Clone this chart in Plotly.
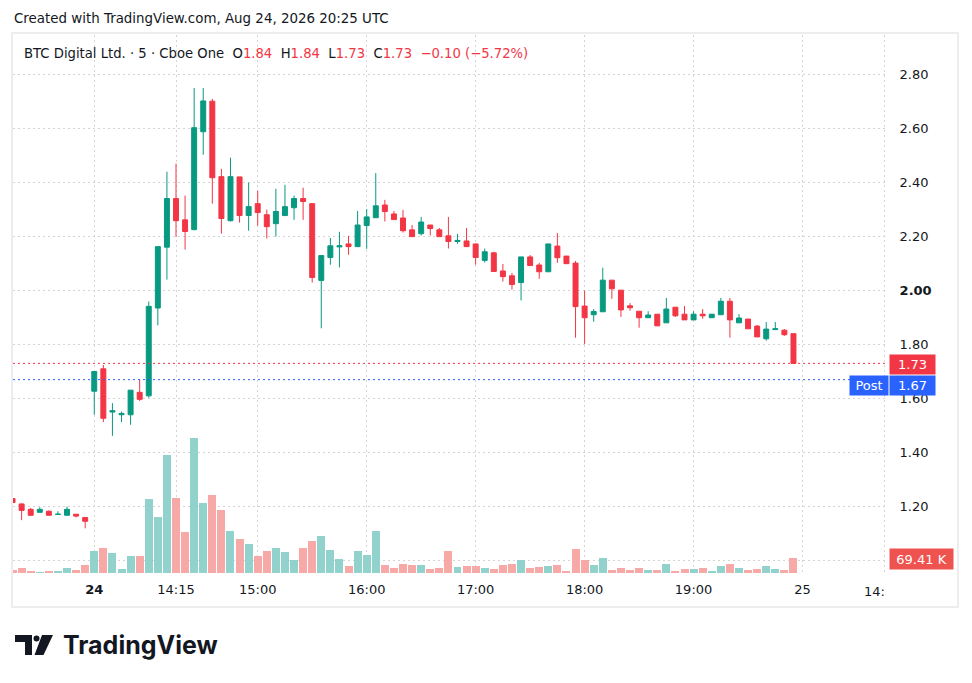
import plotly.graph_objects as go

# bars: 9 from the previous session, then Aug 24 from 13:30 (5 minute bars)
pre_open = [1.23, 1.21, 1.19, 1.179, 1.183, 1.171, 1.168, 1.172, 1.16]
pre_high = [1.23, 1.212, 1.195, 1.198, 1.186, 1.183, 1.20, 1.172, 1.16]
pre_low = [1.215, 1.15, 1.168, 1.179, 1.168, 1.171, 1.168, 1.16, 1.12]
pre_close = [1.215, 1.186, 1.168, 1.19, 1.168, 1.172, 1.19, 1.165, 1.146]
pre_volume = [12700, 22200, 9400, 3300, 9400, 9400, 22200, 12700, 36400]

day_open = [
    1.627, 1.71, 1.55, 1.54, 1.54, 1.623, 1.61, 1.935, 2.16, 2.34,
    2.261, 2.225, 2.587, 2.70, 2.421, 2.258, 2.42, 2.277, 2.321, 2.28,
    2.247, 2.277, 2.306, 2.34, 2.321, 2.037, 2.122, 2.161, 2.172, 2.162,
    2.24, 2.269, 2.316, 2.283, 2.268, 2.224, 2.21, 2.242, 2.224, 2.202,
    2.181, 2.183, 2.172, 2.111, 2.139, 2.072, 2.054, 2.029, 2.124, 2.094,
    2.069, 2.164, 2.127, 2.101, 1.942, 1.91, 1.921, 2.038, 2.001, 1.943,
    1.923, 1.899, 1.912, 1.88, 1.938, 1.912, 1.891, 1.912, 1.899, 1.91,
    1.96, 1.88, 1.894, 1.868, 1.821, 1.855, 1.853, 1.84,
]
day_high = [
    1.70, 1.724, 1.583, 1.552, 1.631, 1.671, 1.959, 2.162, 2.439, 2.469,
    2.351, 2.749, 2.749, 2.709, 2.45, 2.491, 2.42, 2.399, 2.369, 2.299,
    2.376, 2.391, 2.351, 2.38, 2.321, 2.129, 2.194, 2.217, 2.202, 2.294,
    2.301, 2.434, 2.335, 2.294, 2.298, 2.242, 2.272, 2.242, 2.231, 2.272,
    2.209, 2.231, 2.172, 2.155, 2.143, 2.098, 2.065, 2.124, 2.131, 2.102,
    2.172, 2.212, 2.127, 2.109, 2.00, 1.931, 2.084, 2.038, 2.001, 1.953,
    1.923, 1.923, 1.912, 1.972, 1.938, 1.942, 1.923, 1.931, 1.912, 1.972,
    1.972, 1.912, 1.894, 1.872, 1.883, 1.883, 1.857, 1.84,
]
day_low = [
    1.54, 1.513, 1.462, 1.513, 1.503, 1.591, 1.603, 1.871, 2.04, 2.199,
    2.151, 2.222, 2.502, 2.321, 2.21, 2.255, 2.251, 2.221, 2.24, 2.192,
    2.199, 2.275, 2.261, 2.261, 2.029, 1.86, 2.095, 2.085, 2.132, 2.162,
    2.154, 2.269, 2.255, 2.262, 2.214, 2.199, 2.203, 2.203, 2.199, 2.155,
    2.173, 2.162, 2.095, 2.103, 2.07, 2.033, 2.003, 1.963, 2.092, 2.043,
    2.069, 2.102, 2.099, 1.825, 1.802, 1.884, 1.921, 1.969, 1.902, 1.925,
    1.862, 1.898, 1.868, 1.88, 1.902, 1.891, 1.891, 1.895, 1.899, 1.91,
    1.825, 1.88, 1.858, 1.828, 1.814, 1.855, 1.832, 1.73,
]
day_close = [
    1.70, 1.527, 1.555, 1.545, 1.631, 1.597, 1.941, 2.162, 2.34, 2.258,
    2.218, 2.602, 2.701, 2.417, 2.266, 2.421, 2.277, 2.31, 2.288, 2.236,
    2.292, 2.31, 2.34, 2.329, 2.048, 2.129, 2.165, 2.165, 2.162, 2.242,
    2.272, 2.313, 2.292, 2.262, 2.221, 2.199, 2.253, 2.229, 2.199, 2.181,
    2.185, 2.162, 2.122, 2.143, 2.07, 2.051, 2.022, 2.124, 2.092, 2.069,
    2.172, 2.121, 2.099, 1.94, 1.899, 1.922, 2.038, 2.006, 1.928, 1.936,
    1.899, 1.909, 1.869, 1.931, 1.906, 1.891, 1.912, 1.906, 1.912, 1.96,
    1.891, 1.898, 1.858, 1.828, 1.857, 1.858, 1.836, 1.73,
]
day_volume = [
    102500, 116600, 93000, 17500, 78900, 78900, 348000, 263000, 555800, 352700,
    192200, 636000, 329100, 366900, 296100, 196900, 159100, 135500, 80300, 103900,
    118100, 99200, 61400, 118100, 151100, 174700, 108600, 66100, 33100, 103900,
    85000, 198300, 37800, 23600, 42500, 37800, 37800, 18900, 23600, 103900,
    28300, 33100, 33100, 23600, 18900, 37800, 42500, 61400, 23600, 28300,
    33100, 37800, 9400, 113300, 61400, 37800, 70800, 14200, 23600, 14200,
    23600, 14200, 14200, 42500, 9400, 18900, 18900, 23600, 9400, 33100,
    42500, 23600, 14200, 18900, 33100, 18900, 14200, 69410,
]

tick_pos = [0, 9, 18, 30, 42, 54, 66, 78]
tick_text = ["<b>24</b>", "14:15", "15:00", "16:00", "17:00", "18:00", "19:00", "25"]
price_ticks = [1.0, 1.2, 1.4, 1.6, 1.8, 2.0, 2.2, 2.4, 2.6, 2.8]

last_price = 1.73
post_price = 1.67

UP = "#089981"
DOWN = "#F23645"
UP_VOL = "#92D2CC"
DOWN_VOL = "#F7A9A7"
TEXT = "#131722"
GRID = "#D4D4D4"

opens = pre_open + day_open
highs = pre_high + day_high
lows = pre_low + day_low
closes = pre_close + day_close
volumes = pre_volume + day_volume
idx = list(range(-len(pre_open), len(day_open)))
vol_colors = [UP_VOL if c >= o else DOWN_VOL for o, c in zip(opens, closes)]

# geometry in page pixels; the page body has an 8px margin around the figure
OFF = 8
FIG_W, FIG_H = 972 - OFF, 683 - OFF
L, R, T, B = 13, 887, 35, 573   # plot area on the page
W, H = R - L, B - T


def px(x):
    return (x - L) / W


def py(y):
    return (B - y) / H


fig = go.Figure()
fig.add_trace(go.Bar(
    x=idx, y=volumes, marker_color=vol_colors, marker_line_width=0,
    width=0.88, yaxis="y2", hoverinfo="skip",
))
fig.add_trace(go.Candlestick(
    x=idx, open=opens, high=highs, low=lows, close=closes,
    increasing=dict(line=dict(color=UP, width=1), fillcolor=UP),
    decreasing=dict(line=dict(color=DOWN, width=1), fillcolor=DOWN),
    whiskerwidth=0,
))


def price_label(v):
    if abs(v - 1.0) < 1e-9:
        return ""          # hidden behind the volume label
    if abs(v - 2.0) < 1e-9:
        return "<b>2.00</b>"
    return f"{v:.2f}"


price_text = [price_label(v) for v in price_ticks]

fig.update_layout(
    width=FIG_W, height=FIG_H,
    margin=dict(l=L - OFF, r=FIG_W - (R - OFF), t=T - OFF, b=FIG_H - (B - OFF)),
    paper_bgcolor="white", plot_bgcolor="white",
    showlegend=False, boxgap=0.22, bargap=0,
    font=dict(family="DejaVu Sans", size=13, color=TEXT),
    xaxis=dict(
        range=[-8.95, 87.3], rangeslider=dict(visible=False),
        tickvals=tick_pos + [87], ticktext=tick_text + [""],
        showgrid=True, gridcolor=GRID, griddash="2px,3px", gridwidth=1,
        ticks="outside", ticklen=4, tickcolor="rgba(0,0,0,0)",
        showline=False, zeroline=False, fixedrange=True,
        tickfont=dict(size=13, color=TEXT),
    ),
    yaxis=dict(
        range=[0.9545, 2.945], side="right",
        tickvals=price_ticks, ticktext=price_text,
        showgrid=True, gridcolor=GRID, griddash="2px,3px", gridwidth=1,
        ticks="outside", ticklen=9, tickcolor="rgba(0,0,0,0)",
        showline=False, zeroline=False,
        tickfont=dict(size=13, color=TEXT),
    ),
    yaxis2=dict(
        range=[0, 2540000], overlaying="y", showgrid=False,
        showticklabels=False, zeroline=False, visible=False,
    ),
)

shapes = [
    # outer chart frame
    dict(type="rect", xref="paper", yref="paper",
         x0=px(12), x1=px(958), y0=py(33), y1=py(607),
         line=dict(color="#EDEDED", width=2), layer="below"),
    dict(type="line", xref="paper", yref="y", x0=0, x1=1,
         y0=last_price, y1=last_price,
         line=dict(color=DOWN, width=1, dash="2px,3px")),
    dict(type="line", xref="paper", yref="y", x0=0, x1=1,
         y0=post_price, y1=post_price,
         line=dict(color="#2962FF", width=1, dash="2px,3px")),
    # TradingView logo mark
    dict(type="path", xref="paper", yref="paper", fillcolor=TEXT, line_width=0,
         path=(f"M{px(15)},{py(635)} L{px(32)},{py(635)} L{px(32)},{py(655)} "
               f"L{px(25)},{py(655)} L{px(25)},{py(642)} L{px(15)},{py(642)} Z")),
    dict(type="circle", xref="paper", yref="paper", fillcolor=TEXT, line_width=0,
         x0=px(33.5), x1=px(39.5), y0=py(641.5), y1=py(635.5)),
    dict(type="path", xref="paper", yref="paper", fillcolor=TEXT, line_width=0,
         path=(f"M{px(42)},{py(635)} L{px(53)},{py(635)} L{px(43.5)},{py(655)} "
               f"L{px(34.5)},{py(655)} Z")),
]
fig.update_layout(shapes=shapes)

red = DOWN
legend = (
    "BTC Digital Ltd. · 5 · Cboe One  "
    f"O<span style='color:{red}'>1.84</span>  "
    f"H<span style='color:{red}'>1.84</span>  "
    f"L<span style='color:{red}'>1.73</span>  "
    f"C<span style='color:{red}'>1.73</span>  "
    f"<span style='color:{red}'>−0.10 (−5.72%)</span>"
)

annotations = [
    dict(text="Created with TradingView.com, Aug 24, 2026 20:25 UTC",
         x=px(12), y=py(19), xanchor="left", yanchor="middle",
         font=dict(size=13.4, color=TEXT)),
    dict(text=legend, x=px(22), y=py(53), xanchor="left", yanchor="middle",
         font=dict(size=13.2, color=TEXT)),
    dict(text="14:", x=px(887), y=py(591), xanchor="right", yanchor="middle",
         font=dict(size=13, color=TEXT)),
    dict(text=f"{last_price:.2f}", x=px(912.5), y=py(364.5), xanchor="center",
         yanchor="middle", bgcolor=DOWN, width=45, height=19, borderpad=0,
         font=dict(size=13, color="white")),
    dict(text="Post", x=px(869), y=py(385.5), xanchor="center", yanchor="middle",
         bgcolor="#2962FF", width=38, height=19, borderpad=0,
         font=dict(size=13, color="white")),
    dict(text=f"{post_price:.2f}", x=px(912.5), y=py(385.5), xanchor="center",
         yanchor="middle", bgcolor="#2962FF", width=45, height=19, borderpad=0,
         font=dict(size=13, color="white")),
    dict(text=f"{day_volume[-1] / 1000:.2f} K", x=px(921.5), y=py(558.5),
         xanchor="center", yanchor="middle", bgcolor="#EF5350", width=63,
         height=20, borderpad=0, font=dict(size=13, color="white")),
    dict(text="<b>TradingView</b>", x=px(61), y=py(645), xanchor="left",
         yanchor="middle", font=dict(family="Inter", size=25, color=TEXT)),
]
for a in annotations:
    a.setdefault("xref", "paper")
    a.setdefault("yref", "paper")
    a.setdefault("showarrow", False)
fig.update_layout(annotations=annotations)

fig.write_html("out.html")
